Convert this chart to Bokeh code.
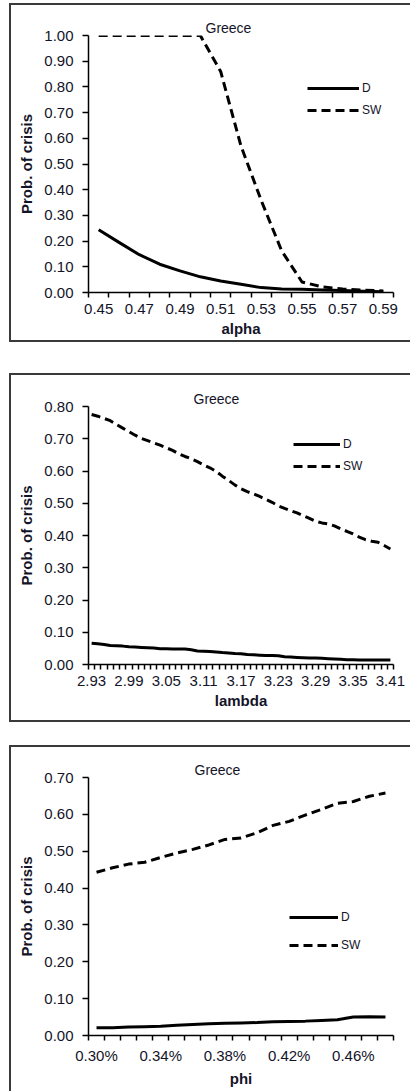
from bokeh.plotting import figure
from bokeh.models import (Range1d, FixedTicker, NumeralTickFormatter, Legend,
                          LegendItem, Title)
from bokeh.layouts import column
from bokeh.embed import file_html
from bokeh.resources import INLINE

# ---------------- data ----------------
alpha_cats = ["0.45", "0.46", "0.47", "0.48", "0.49", "0.50", "0.51", "0.52",
              "0.53", "0.54", "0.55", "0.56", "0.57", "0.58", "0.59"]
alpha_D = [0.244, 0.195, 0.147, 0.110, 0.084, 0.061, 0.045, 0.032, 0.019,
           0.014, 0.013, 0.010, 0.008, 0.005, 0.003]
alpha_SW = [1.00, 1.00, 1.00, 1.00, 1.00, 1.00, 0.86, 0.57, 0.357, 0.162,
            0.041, 0.022, 0.014, 0.009, 0.006]

lambda_cats = ["2.93", "2.94", "2.95", "2.96", "2.97", "2.98", "2.99", "3.00",
               "3.01", "3.02", "3.03", "3.04", "3.05", "3.06", "3.07", "3.08",
               "3.09", "3.10", "3.11", "3.12", "3.13", "3.14", "3.15", "3.16",
               "3.17", "3.18", "3.19", "3.20", "3.21", "3.22", "3.23", "3.24",
               "3.25", "3.26", "3.27", "3.28", "3.29", "3.30", "3.31", "3.32",
               "3.33", "3.34", "3.35", "3.36", "3.37", "3.38", "3.39", "3.40",
               "3.41"]
lambda_D = [0.066, 0.064, 0.062, 0.059, 0.058, 0.057, 0.055, 0.054, 0.053,
            0.052, 0.051, 0.049, 0.049, 0.048, 0.048, 0.048, 0.046, 0.042,
            0.041, 0.040, 0.039, 0.037, 0.036, 0.034, 0.033, 0.031, 0.030,
            0.029, 0.028, 0.028, 0.027, 0.024, 0.023, 0.022, 0.021, 0.020,
            0.020, 0.019, 0.018, 0.017, 0.016, 0.015, 0.015, 0.014, 0.014,
            0.014, 0.014, 0.014, 0.014]
lambda_SW = [0.775, 0.770, 0.763, 0.756, 0.744, 0.733, 0.722, 0.711, 0.701,
             0.694, 0.687, 0.680, 0.672, 0.664, 0.653, 0.645, 0.638, 0.629,
             0.619, 0.610, 0.599, 0.584, 0.571, 0.557, 0.545, 0.536, 0.529,
             0.521, 0.512, 0.503, 0.492, 0.484, 0.477, 0.470, 0.461, 0.453,
             0.444, 0.439, 0.436, 0.430, 0.421, 0.413, 0.405, 0.395, 0.387,
             0.382, 0.379, 0.369, 0.358]

phi_cats = ["0.30%", "0.31%", "0.32%", "0.33%", "0.34%", "0.35%", "0.36%",
            "0.37%", "0.38%", "0.39%", "0.40%", "0.41%", "0.42%", "0.43%",
            "0.44%", "0.45%", "0.46%", "0.47%", "0.48%"]
phi_D = [0.021, 0.021, 0.023, 0.024, 0.025, 0.028, 0.030, 0.032, 0.033, 0.034,
         0.035, 0.037, 0.038, 0.039, 0.041, 0.043, 0.050, 0.051, 0.050]
phi_SW = [0.443, 0.455, 0.465, 0.470, 0.483, 0.495, 0.505, 0.517, 0.532, 0.536,
          0.550, 0.570, 0.581, 0.598, 0.613, 0.630, 0.635, 0.649, 0.658]

series_names = ["D", "SW"]
title_text = "Greece"
y_title = "Prob. of crisis"

FONT = "Liberation Sans"
TXT = "#141428"
BW = 2            # border width
FW = 401          # figure width (box starts at x=9, cut at the right edge)
BORDER = "%dpx solid #3a3a3a" % BW


def make_panel(cats, d_vals, sw_vals, label_every, ymax, xlabel, ch,
               frame, leg, title_off, margin, bottom_border):
    fl, fr, ft, fb = frame
    n = len(cats)
    xs = [i + 0.5 for i in range(n)]
    styles = {"border-top": BORDER, "border-left": BORDER}
    total_h = ch + BW
    if bottom_border:
        styles["border-bottom"] = BORDER
        total_h += BW
    p = figure(width=FW, height=total_h, output_backend="svg",
               toolbar_location=None,
               x_range=Range1d(0, n), y_range=Range1d(0, ymax),
               min_border_left=fl, min_border_right=FW - fr,
               min_border_top=ft, min_border_bottom=total_h - fb,
               margin=margin, styles=styles)
    p.outline_line_color = None
    p.grid.visible = False
    p.background_fill_color = "white"
    p.border_fill_color = "white"

    # x axis: ticks at category boundaries, labels at category centres
    lab_pos = [i + 0.5 for i in range(0, n, label_every)]
    p.xaxis.ticker = FixedTicker(ticks=lab_pos, minor_ticks=list(range(n + 1)))
    p.xaxis.major_label_overrides = {i + 0.5: cats[i] for i in range(0, n, label_every)}
    p.xaxis.major_tick_line_color = None
    p.xaxis.major_tick_out = 5
    p.xaxis.major_tick_in = 0
    p.xaxis.minor_tick_line_color = "black"
    p.xaxis.minor_tick_line_width = 1.5
    p.xaxis.minor_tick_out = 5
    p.xaxis.minor_tick_in = 0
    p.xaxis.axis_label = xlabel
    p.xaxis.major_label_standoff = 6
    p.xaxis.axis_label_standoff = 3

    # y axis
    p.yaxis.ticker = FixedTicker(ticks=[k / 10 for k in range(int(round(ymax * 10)) + 1)])
    p.yaxis.formatter = NumeralTickFormatter(format="0.00")
    p.yaxis.minor_tick_line_color = None
    p.yaxis.major_tick_out = 6
    p.yaxis.major_tick_in = 0
    p.yaxis.major_tick_line_width = 1.5
    p.yaxis.major_label_standoff = 9
    p.yaxis.axis_label = y_title
    p.yaxis.axis_label_standoff = 6

    for ax in (p.xaxis, p.yaxis):
        ax.axis_line_color = "black"
        ax.axis_line_width = 1.5
        ax.major_label_text_font = FONT
        ax.major_label_text_font_size = "15px"
        ax.major_label_text_color = TXT
        ax.axis_label_text_font = FONT
        ax.axis_label_text_font_size = "15px"
        ax.axis_label_text_font_style = "bold"
        ax.axis_label_text_color = TXT

    rD = p.line(xs, d_vals, line_color="black", line_width=3, line_join="round")
    rS = p.line(xs, sw_vals, line_color="black", line_width=3, line_dash="9 5",
                line_join="round")

    vx, vy, gw, sp = leg
    legend = Legend(items=[LegendItem(label=series_names[0], renderers=[rD]),
                           LegendItem(label=series_names[1], renderers=[rS])],
                    location=(vx, vy), glyph_width=gw, glyph_height=20,
                    label_height=20, spacing=sp, padding=0, margin=0,
                    label_standoff=3, border_line_color=None,
                    background_fill_alpha=0, label_text_font=FONT,
                    label_text_font_size="12px", label_text_color=TXT)
    p.add_layout(legend)

    p.add_layout(Title(text=title_text, align="left", offset=title_off,
                       standoff=0, text_font=FONT, text_font_size="14px",
                       text_font_style="normal", text_color=TXT), "above")
    return p


# canvas origins: p1 (11,5), p2 (11,375), p3 (11,747)
p1 = make_panel(alpha_cats, alpha_D, alpha_SW, 2, 1.0, "alpha", 335,
                (77, 392, 30, 287), (219, 172, 52, 2), 117, (3, 0, 31, 9), True)
p2 = make_panel(lambda_cats, lambda_D, lambda_SW, 6, 0.8, "lambda", 345,
                (77, 385, 31, 289), (205, 188, 47, 2), 105, (0, 0, 23, 9), True)
p3 = make_panel(phi_cats, phi_D, phi_SW, 4, 0.7, "phi", 344,
                (76, 382, 30, 288), (201, 80, 49, 8), 106, (0, 0, 0, 9), False)

layout = column(p1, p2, p3, spacing=0)
open("out.html", "w").write(file_html(layout, INLINE))
